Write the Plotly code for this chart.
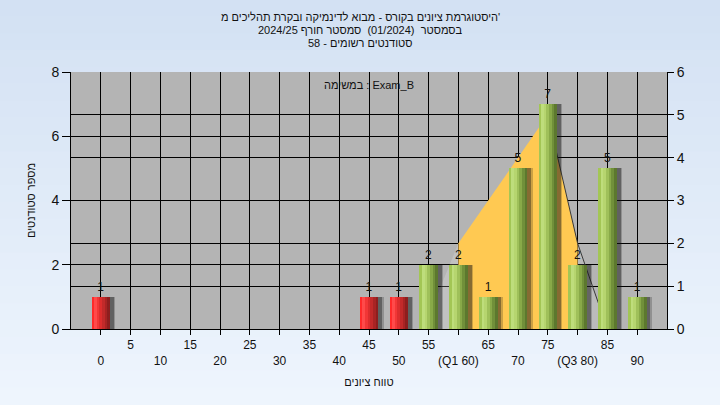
import plotly.graph_objects as go

# ---------------- data ----------------
score_bins = [0, 5, 10, 15, 20, 25, 30, 35, 40, 45, 50, 55, 60, 65, 70, 75, 80, 85, 90]
tick_labels = ["0", "5", "10", "15", "20", "25", "30", "35", "40", "45", "50", "55",
               "(Q1 60)", "65", "70", "75", "(Q3 80)", "85", "90"]
student_counts = [1, 0, 0, 0, 0, 0, 0, 0, 0, 1, 1, 2, 2, 1, 5, 7, 2, 5, 1]
pass_threshold = 55

curve_x = [55, 60, 65, 70, 75, 80, 85]
curve_y = [0.3, 2, 3, 4, 5, 2, 0]
q1, q3 = 60, 80

title_lines = [
    "היסטוגרמת ציונים בקורס - מבוא לדינמיקה ובקרת תהליכים מ'",
    "בסמסטר  (01/2024)  סמסטר חורף 2024/25",
    "סטודנטים רשומים - 58",
]
x_title = "טווח ציונים"
y_title = "מספר סטודנטים"
legend_text = "במשימה : Exam_B"

FONT = "Liberation Sans, Arial, sans-serif"

# ---------------- figure ----------------
fig = go.Figure()

# distribution curve (main y axis on the right, drawn under the bars)
tail_l = [i for i, v in enumerate(curve_x) if v <= q1]
mid = [i for i, v in enumerate(curve_x) if q1 <= v <= q3]
tail_r = [i for i, v in enumerate(curve_x) if v >= q3]
for idx, col in [(tail_l, "rgba(255,255,255,0.18)"), (tail_r, "rgba(255,255,255,0.10)"),
                 (mid, "#ffc952")]:
    fig.add_trace(go.Scatter(
        x=[curve_x[i] for i in idx], y=[curve_y[i] for i in idx],
        mode="lines", fill="tozeroy", fillcolor=col, line=dict(width=0),
        yaxis="y", hoverinfo="skip", showlegend=False))
peak = curve_y.index(max(curve_y))
fig.add_trace(go.Scatter(
    x=curve_x[peak:], y=curve_y[peak:], mode="lines",
    line=dict(color="#3a3a3a", width=1), yaxis="y", hoverinfo="skip", showlegend=False))

# bars on the overlaying axis (left side)
is_fail = [b < pass_threshold for b in score_bins]
bar_w = 3.1
for off, col in [(0.6, "rgba(20,20,20,0.22)"), (0.35, "rgba(20,20,20,0.38)")]:
    fig.add_trace(go.Bar(
        x=score_bins, y=student_counts, width=bar_w + 0.3, offset=-bar_w / 2 + off,
        marker=dict(color=col, line=dict(width=0)), yaxis="y2",
        hoverinfo="skip", showlegend=False))

green_strips = ["#a3c655", "#bedd7c", "#b6d56f", "#9fc05a", "#88a948", "#71903a", "#5c782e"]
red_strips = ["#ff2a2a", "#ff4a4a", "#f23636", "#dc2d2d", "#c22a2a", "#a82424", "#8e1e1e"]
n = len(green_strips)
sw = bar_w / n
for k in range(n):
    fig.add_trace(go.Bar(
        x=score_bins, y=student_counts, width=sw + 0.02, offset=-bar_w / 2 + k * sw,
        marker=dict(color=[red_strips[k] if f else green_strips[k] for f in is_fail],
                    line=dict(width=0)),
        yaxis="y2", hoverinfo="skip", showlegend=False))

fig.add_trace(go.Bar(
    x=score_bins, y=student_counts, width=bar_w, offset=-bar_w / 2,
    marker=dict(color="rgba(0,0,0,0)", line=dict(width=0)),
    text=[str(v) if v else "" for v in student_counts], textposition="outside",
    textfont=dict(family=FONT, size=12, color="#111111"), cliponaxis=False,
    yaxis="y2", hoverinfo="skip", showlegend=False))

# background gradient + grey plot area
shapes = []
nb = 24
top = (211, 225, 243)
bot = (238, 245, 253)
y_lo, y_hi = -76 / 257, 1 + 72 / 257
for i in range(nb):
    t = i / (nb - 1)
    c = tuple(round(top[j] + (bot[j] - top[j]) * t) for j in range(3))
    y1 = y_hi - (y_hi - y_lo) * i / nb
    y0 = y_hi - (y_hi - y_lo) * (i + 1) / nb
    shapes.append(dict(type="rect", xref="paper", yref="paper", x0=-0.2, x1=1.2,
                       y0=y0 - 0.002, y1=y1 + 0.002, line=dict(width=0),
                       fillcolor="rgb(%d,%d,%d)" % c, layer="below"))
shapes.append(dict(type="rect", xref="paper", yref="paper", x0=0, x1=1, y0=0, y1=1,
                   line=dict(width=0), fillcolor="#b4b4b4", layer="below"))

ticktext = [("<br>" + t) if i % 2 == 0 else t for i, t in enumerate(tick_labels)]

def py_to_paper(py):
    return (329 - py) / 257

annotations = []
for line, py in zip(title_lines, [17, 30, 43]):
    annotations.append(dict(text=line, xref="paper", yref="paper",
                            x=(360 - 71) / 596, y=py_to_paper(py), xanchor="center",
                            yanchor="middle", showarrow=False,
                            font=dict(family=FONT, size=11, color="#111111")))
annotations.append(dict(text=legend_text, xref="paper", yref="paper", x=0.5,
                        y=py_to_paper(85), xanchor="center", yanchor="middle",
                        showarrow=False, font=dict(family=FONT, size=11, color="#111111")))

fig.update_layout(
    width=720, height=405,
    margin=dict(l=71, r=53, t=72, b=76),
    paper_bgcolor="#e2ecf8", plot_bgcolor="rgba(0,0,0,0)",
    barmode="overlay", bargap=0, hovermode=False,
    shapes=shapes,
    font=dict(family=FONT, color="#111111"),
    xaxis=dict(range=[-5, 95], tickmode="array", tickvals=score_bins, ticktext=ticktext,
               showgrid=True, gridcolor="#000000", gridwidth=1,
               showline=True, linecolor="#000000", linewidth=1,
               ticks="outside", ticklen=5, tickcolor="#000000",
               tickfont=dict(family=FONT, size=12, color="#111111"),
               title=dict(text=x_title, font=dict(family=FONT, size=11), standoff=11),
               zeroline=False, fixedrange=True),
    yaxis=dict(range=[0, 6], dtick=1, side="right",
               showgrid=True, gridcolor="#000000", gridwidth=1,
               showline=True, linecolor="#000000", linewidth=1,
               ticks="outside", ticklen=6, tickcolor="#000000",
               tickfont=dict(family=FONT, size=14, color="#111111"),
               zeroline=False, fixedrange=True),
    yaxis2=dict(range=[0, 8], dtick=2, side="left", overlaying="y",
                showgrid=True, gridcolor="#000000", gridwidth=1,
                showline=True, linecolor="#000000", linewidth=1,
                ticks="outside", ticklen=8, tickcolor="#000000",
                tickfont=dict(family=FONT, size=14, color="#111111"),
                title=dict(text=y_title, font=dict(family=FONT, size=11), standoff=13),
                zeroline=False, fixedrange=True),
    annotations=annotations,
)

fig.write_html("out.html", config={"displayModeBar": False, "staticPlot": True},
               post_script="document.body.style.margin='0';")
